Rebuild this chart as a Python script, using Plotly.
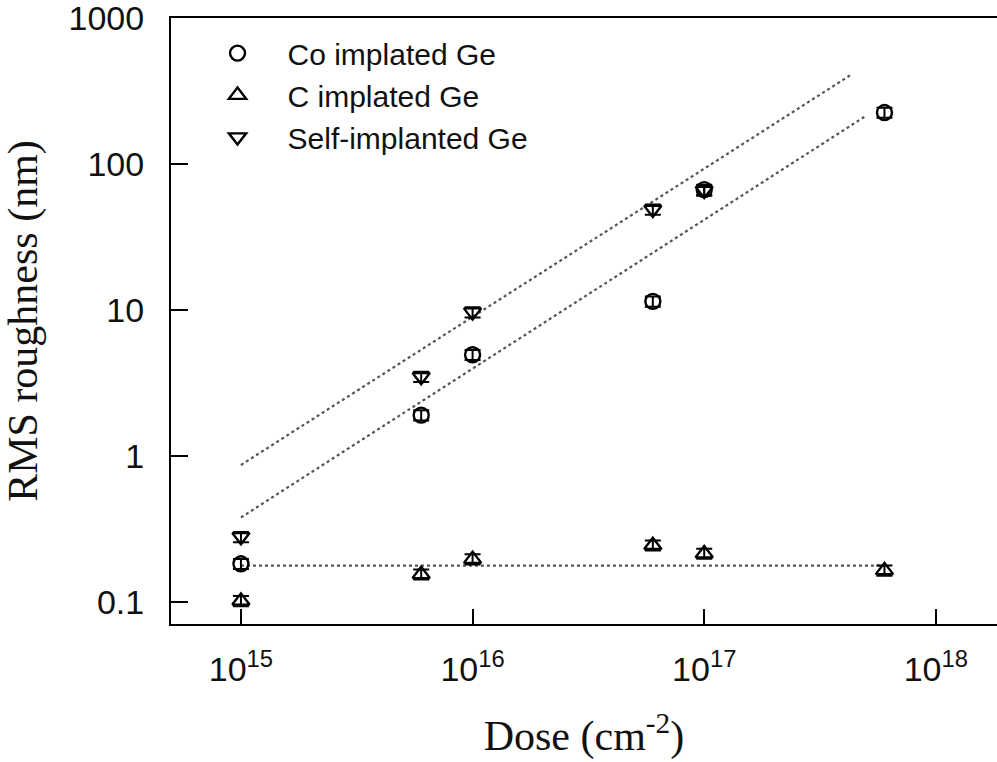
import plotly.graph_objects as go

# ---- data ----
co_dose = [1e15, 6e15, 1e16, 6e16, 1e17, 6e17]
co_rms = [0.183, 1.91, 4.95, 11.5, 67, 226]

c_dose = [1e15, 6e15, 1e16, 6e16, 1e17, 6e17]
c_rms = [0.102, 0.155, 0.197, 0.245, 0.215, 0.165]

self_dose = [1e15, 6e15, 1e16, 6e16, 1e17]
self_rms = [0.28, 3.5, 9.7, 49, 66]

fit_self_x = [1e15, 4.3e17]
fit_self_y = [0.87, 410]
fit_co_x = [1e15, 5.0e17]
fit_co_y = [0.38, 215]
fit_c_x = [1e15, 6e17]
fit_c_y = [0.178, 0.178]

x_tickvals = [1e15, 1e16, 1e17, 1e18]
x_ticktext = ["10<sup>15</sup>", "10<sup>16</sup>", "10<sup>17</sup>", "10<sup>18</sup>"]
y_tickvals = [0.1, 1, 10, 100, 1000]
y_ticktext = ["0.1", "1", "10", "100", "1000"]

names = ["Co implated Ge", "C implated Ge", "Self-implanted Ge"]

fig = go.Figure()

dot = dict(color="#555555", width=2.2, dash="dot")
for fx, fy in [(fit_self_x, fit_self_y), (fit_co_x, fit_co_y), (fit_c_x, fit_c_y)]:
    fig.add_trace(go.Scatter(x=fx, y=fy, mode="lines", line=dot,
                             showlegend=False, hoverinfo="skip"))

err = dict(type="percent", value=8, color="black", thickness=2, width=8)
for xs, ys, sym, nm in [(co_dose, co_rms, "circle-open", names[0]),
                        (c_dose, c_rms, "triangle-up-open", names[1]),
                        (self_dose, self_rms, "triangle-down-open", names[2])]:
    fig.add_trace(go.Scatter(
        x=xs, y=ys, mode="markers", name=nm,
        marker=dict(symbol=sym, size=15, color="black", line=dict(color="black", width=2.4)),
        error_y=err,
    ))

sans = "Liberation Sans, Arial, Helvetica, sans-serif"
serif = "Liberation Serif, Times New Roman, serif"

fig.update_layout(
    width=997, height=762,
    margin=dict(l=171, r=0, t=18, b=138),
    paper_bgcolor="white", plot_bgcolor="white",
    showlegend=True,
    legend=dict(x=0.02, y=0.985, xanchor="left", yanchor="top",
                font=dict(family=sans, size=30, color="#111111"),
                bgcolor="rgba(0,0,0,0)", itemwidth=90, tracegroupgap=0),
    xaxis=dict(
        type="log", range=[14.698, 18.264],
        tickvals=x_tickvals, ticktext=x_ticktext,
        ticks="inside", ticklen=15, tickwidth=2, tickcolor="black",
        showline=True, linewidth=2, linecolor="black", mirror=True,
        showgrid=False, zeroline=False,
        tickfont=dict(family=sans, size=34, color="#111111"),
        ticklabelstandoff=14,
        title=dict(text="Dose (cm<sup>-2</sup>)", font=dict(family=serif, size=42, color="#111111"),
                   standoff=34),
    ),
    yaxis=dict(
        type="log", range=[-1.15, 3.002],
        tickvals=y_tickvals, ticktext=y_ticktext,
        ticks="inside", ticklen=17, tickwidth=2, tickcolor="black",
        showline=True, linewidth=2, linecolor="black",
        showgrid=False, zeroline=False,
        tickfont=dict(family=sans, size=34, color="#111111"),
        ticklabelstandoff=18, ticklabeloverflow="allow",
        title=dict(text="RMS roughness (nm)", font=dict(family=serif, size=42, color="#111111"),
                   standoff=28),
    ),
)

fig.write_html("out.html")
